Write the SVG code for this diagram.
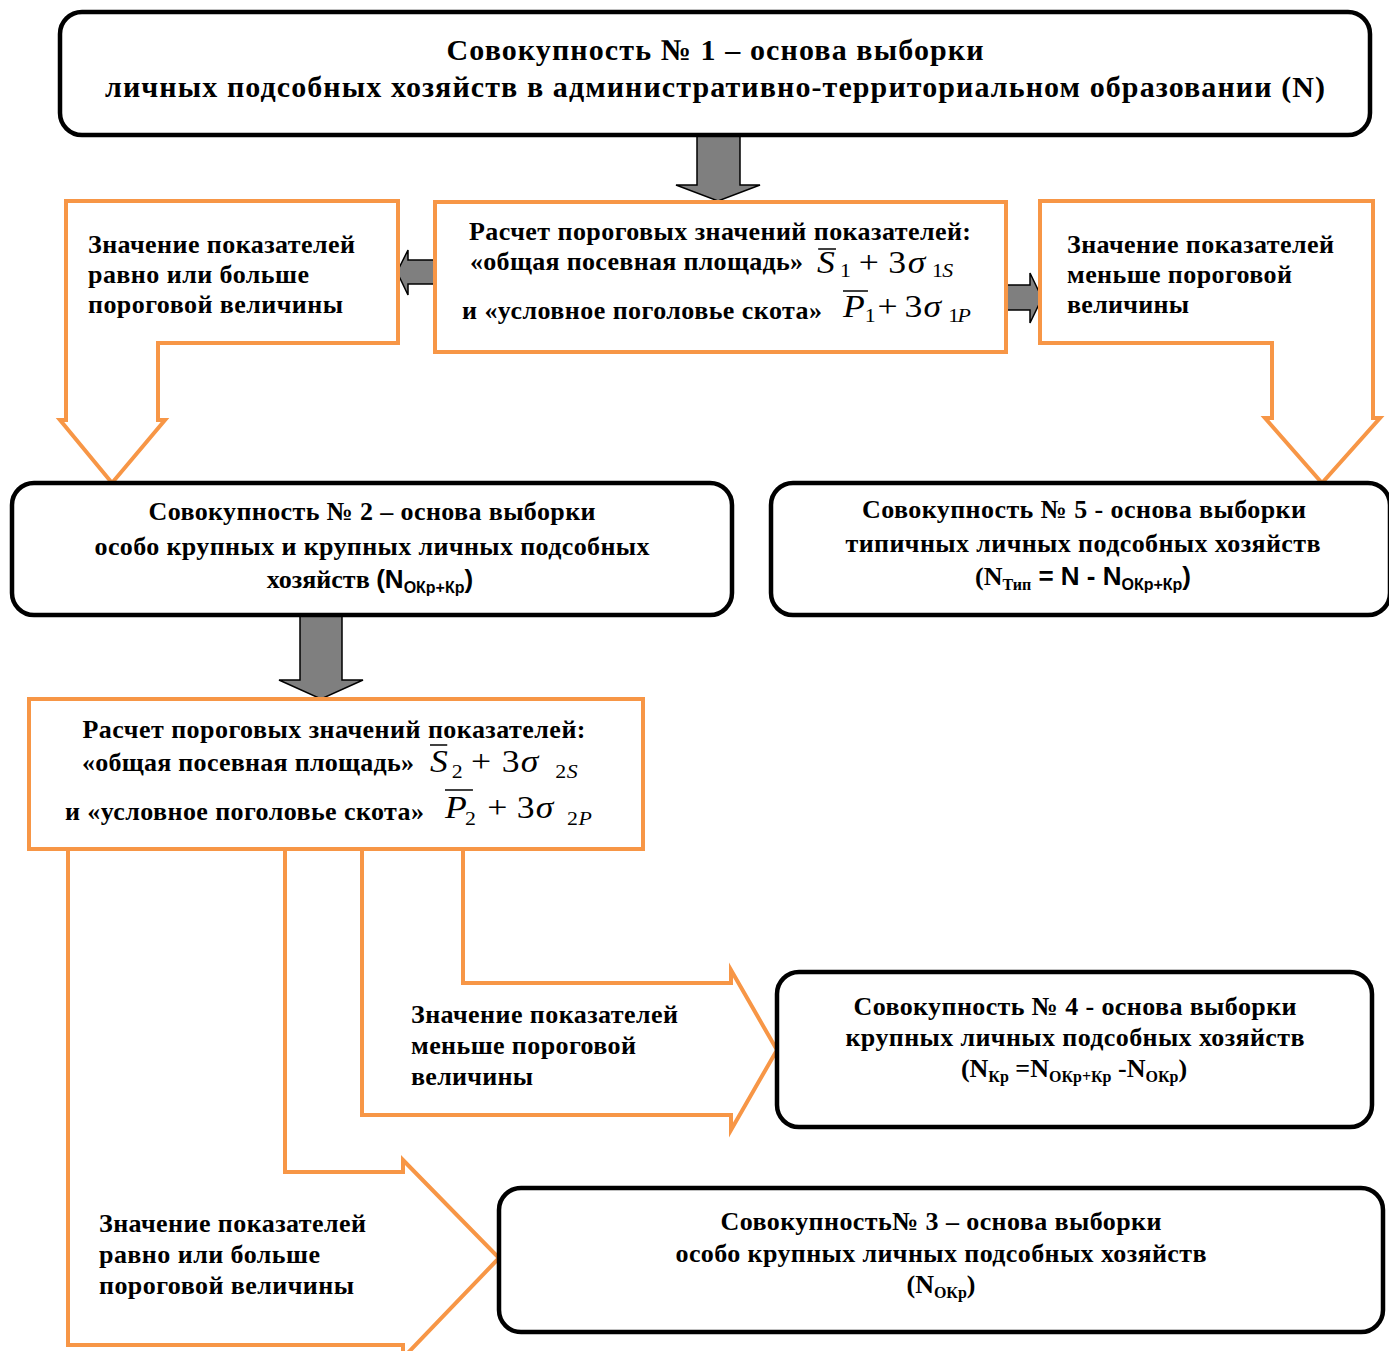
<svg xmlns="http://www.w3.org/2000/svg" width="1389" height="1351" viewBox="0 0 1389 1351">
<style>
.t{font-family:"Liberation Serif","Times New Roman",serif;font-weight:bold;font-size:26px;fill:#000}
.ttl{font-size:30px}
.sans{font-family:"Liberation Sans",Arial,sans-serif}
.sub{font-size:16px}
.box{fill:#fff;stroke:#000;stroke-width:4.5}
.ob{fill:#fff;stroke:#F79646;stroke-width:4}
.ga{fill:#7f7f7f;stroke:#000;stroke-width:1.5}
.m{font-family:"Liberation Serif","Times New Roman",serif;font-size:31px;font-style:italic;fill:#000}
.mn{font-style:normal}
.ms{font-size:19px}
.bar{stroke:#000;stroke-width:1.5}
</style>
<rect width="1389" height="1351" fill="#fff"/>

<g id="connectors">
  <path class="ga" d="M697,135 H740 V185 H760 L718,201 L676,185 H697 Z"/>
  <path class="ga" d="M436,260 H408 V250 L397,272 L408,295 V284 H436 Z"/>
  <path class="ga" d="M1000,285 H1030 V273 L1042,298 L1030,323 V310 H1000 Z"/>
  <path class="ga" d="M300,615 H342 V680 H363 L321,699 L279,680 H300 Z"/>
</g>

<g id="node-set1">
  <rect class="box" x="60" y="12" width="1310" height="123" rx="22"/>
  <text class="t ttl" x="715" y="60" text-anchor="middle" textLength="537" lengthAdjust="spacing">Совокупность № 1 – основа выборки</text>
  <text class="t ttl" x="715" y="97" text-anchor="middle" textLength="1220" lengthAdjust="spacing">личных подсобных хозяйств в административно-территориальном образовании (N)</text>
</g>

<g id="node-calc1">
  <rect class="ob" x="435" y="202" width="571" height="150"/>
  <text class="t" x="720" y="240" text-anchor="middle" textLength="502" lengthAdjust="spacing">Расчет пороговых значений показателей:</text>
  <text class="t" x="470" y="270" textLength="333" lengthAdjust="spacing">«общая посевная площадь»</text>
  <text class="t" x="462" y="319" textLength="360" lengthAdjust="spacing">и «условное поголовье скота»</text>
  <g transform="translate(817,273) scale(1.15,1)">
    <text class="m" x="0" y="0">S</text>
    <line class="bar" x1="1" y1="-24" x2="16.5" y2="-24"/>
    <text class="m mn ms" x="20" y="4">1</text>
    <text class="m mn" x="45" y="0" text-anchor="middle">+</text>
    <text class="m mn" x="62" y="0">3</text>
    <text class="m" x="79" y="0">σ</text>
    <text class="m mn ms" x="100" y="4">1</text>
    <text class="m ms" x="109" y="4">S</text>
  </g>
  <g transform="translate(843,317) scale(1.15,1)">
    <text class="m" x="0" y="0">P</text>
    <line class="bar" x1="0" y1="-26" x2="21.7" y2="-26"/>
    <text class="m mn ms" x="19" y="5">1</text>
    <text class="m mn" x="38.7" y="0" text-anchor="middle">+</text>
    <text class="m mn" x="53.5" y="0">3</text>
    <text class="m" x="70" y="0">σ</text>
    <text class="m mn ms" x="91.5" y="5">1</text>
    <text class="m ms" x="99.5" y="5">P</text>
  </g>
</g>

<g id="node-left-callout">
  <path class="ob" d="M66,201 H398 V343 H158 V420 H165 L112,483 L60,420 H66 Z"/>
  <text class="t" x="88" y="253" textLength="267" lengthAdjust="spacing">Значение показателей</text>
  <text class="t" x="88" y="283" textLength="221" lengthAdjust="spacing">равно или больше</text>
  <text class="t" x="88" y="313" textLength="255" lengthAdjust="spacing">пороговой величины</text>
</g>

<g id="node-right-callout">
  <path class="ob" d="M1040,201 H1373 V418 H1380 L1322,483 L1265,418 H1272 V343 H1040 Z"/>
  <text class="t" x="1067" y="253" textLength="267" lengthAdjust="spacing">Значение показателей</text>
  <text class="t" x="1067" y="283" textLength="225" lengthAdjust="spacing">меньше пороговой</text>
  <text class="t" x="1067" y="313" textLength="122" lengthAdjust="spacing">величины</text>
</g>

<g id="node-set2">
  <rect class="box" x="12" y="483" width="720" height="132" rx="22"/>
  <text class="t" x="372" y="520" text-anchor="middle" textLength="447" lengthAdjust="spacing">Совокупность № 2 – основа выборки</text>
  <text class="t" x="372" y="555" text-anchor="middle" textLength="555" lengthAdjust="spacing">особо крупных и крупных личных подсобных</text>
  <text class="t" x="370" y="588" text-anchor="middle">хозяйств <tspan class="sans">(N</tspan><tspan class="sans sub" dy="5">ОКр+Кр</tspan><tspan class="sans" dy="-5">)</tspan></text>
</g>

<g id="node-set5">
  <rect class="box" x="771" y="483" width="619" height="132" rx="22"/>
  <text class="t" x="1084" y="518" text-anchor="middle" textLength="444" lengthAdjust="spacing">Совокупность № 5 - основа выборки</text>
  <text class="t" x="1083" y="552" text-anchor="middle" textLength="475" lengthAdjust="spacing">типичных личных подсобных хозяйств</text>
  <text class="t" x="1083" y="585" text-anchor="middle">(N<tspan class="sub" dy="5">Тип</tspan><tspan class="sans" dy="-5"> = N - N</tspan><tspan class="sans sub" dy="5">ОКр+Кр</tspan><tspan class="sans" dy="-5">)</tspan></text>
</g>

<g id="node-mid-callout">
  <path class="ob" d="M362,849 V1115 H731 V1130 L777,1050 L731,970 V983 H463 V849 Z"/>
  <text class="t" x="411" y="1023" textLength="267" lengthAdjust="spacing">Значение показателей</text>
  <text class="t" x="411" y="1054" textLength="225" lengthAdjust="spacing">меньше пороговой</text>
  <text class="t" x="411" y="1085" textLength="122" lengthAdjust="spacing">величины</text>
</g>

<g id="node-bottom-callout">
  <path class="ob" d="M68,849 V1345 H403 V1358 L499,1258 L403,1160 V1172 H285 V849 Z"/>
  <text class="t" x="99" y="1232" textLength="267" lengthAdjust="spacing">Значение показателей</text>
  <text class="t" x="99" y="1263" textLength="221" lengthAdjust="spacing">равно или больше</text>
  <text class="t" x="99" y="1294" textLength="255" lengthAdjust="spacing">пороговой величины</text>
</g>

<g id="node-calc2">
  <rect class="ob" x="29" y="699" width="614" height="150"/>
  <text class="t" x="334" y="738" text-anchor="middle" textLength="503" lengthAdjust="spacing">Расчет пороговых значений показателей:</text>
  <text class="t" x="82" y="771" textLength="332" lengthAdjust="spacing">«общая посевная площадь»</text>
  <text class="t" x="65" y="820" textLength="359" lengthAdjust="spacing">и «условное поголовье скота»</text>
  <g transform="translate(430,772) scale(1.15,1)">
    <text class="m" x="0" y="0">S</text>
    <line class="bar" x1="0" y1="-27" x2="15" y2="-27"/>
    <text class="m mn ms" x="19" y="6">2</text>
    <text class="m mn" x="44.3" y="0" text-anchor="middle">+</text>
    <text class="m mn" x="62.5" y="0">3</text>
    <text class="m" x="79" y="0">σ</text>
    <text class="m mn ms" x="109" y="6">2</text>
    <text class="m ms" x="119" y="6">S</text>
  </g>
  <g transform="translate(445,818) scale(1.15,1)">
    <text class="m" x="0" y="0">P</text>
    <line class="bar" x1="0" y1="-28" x2="24.3" y2="-28"/>
    <text class="m mn ms" x="17.4" y="7">2</text>
    <text class="m mn" x="45.6" y="0" text-anchor="middle">+</text>
    <text class="m mn" x="62.5" y="0">3</text>
    <text class="m" x="79" y="0">σ</text>
    <text class="m mn ms" x="106" y="7">2</text>
    <text class="m ms" x="116" y="7">P</text>
  </g>
</g>

<g id="node-set4">
  <rect class="box" x="777" y="972" width="595" height="155" rx="22"/>
  <text class="t" x="1075" y="1015" text-anchor="middle" textLength="443" lengthAdjust="spacing">Совокупность № 4 - основа выборки</text>
  <text class="t" x="1075" y="1046" text-anchor="middle" textLength="459" lengthAdjust="spacing">крупных личных подсобных хозяйств</text>
  <text class="t" x="1074" y="1077" text-anchor="middle">(N<tspan class="sub" dy="5">Кр</tspan><tspan dy="-5"> =N</tspan><tspan class="sub" dy="5">ОКр+Кр</tspan><tspan dy="-5"> -N</tspan><tspan class="sub" dy="5">ОКр</tspan><tspan dy="-5">)</tspan></text>
</g>

<g id="node-set3">
  <rect class="box" x="499" y="1188" width="884" height="144" rx="22"/>
  <text class="t" x="941" y="1230" text-anchor="middle" textLength="441" lengthAdjust="spacing">Совокупность№ 3 – основа выборки</text>
  <text class="t" x="941" y="1262" text-anchor="middle" textLength="531" lengthAdjust="spacing">особо крупных личных подсобных хозяйств</text>
  <text class="t" x="941" y="1293" text-anchor="middle">(N<tspan class="sub" dy="5">ОКр</tspan><tspan dy="-5">)</tspan></text>
</g>
</svg>
